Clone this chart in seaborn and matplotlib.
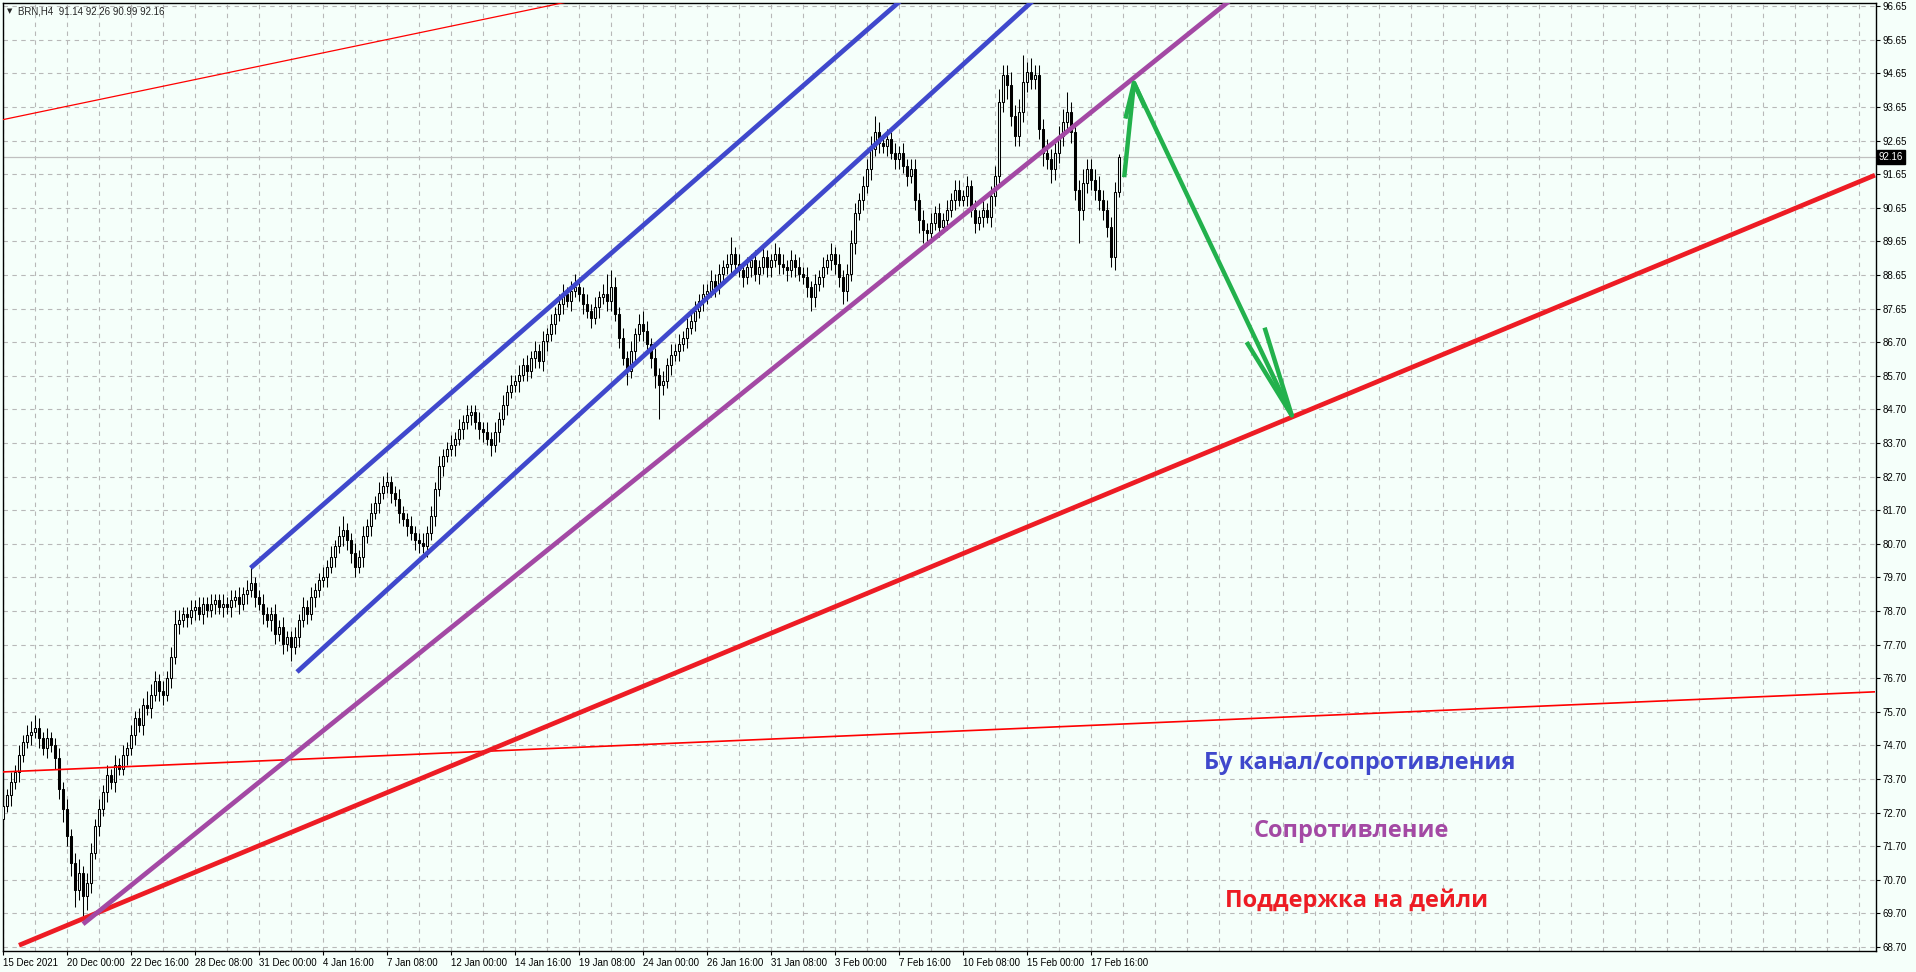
import numpy as np
import pandas as pd
import seaborn as sns
import matplotlib.pyplot as plt

# BRN H4 CANDLES, ONE ROW = 8 BARS
closes = [
    72.9, 73.2, 73.6, 73.9, 74.4, 74.8, 75.0, 75.1,
    75.2, 74.9, 74.6, 74.9, 74.7, 74.3, 73.4, 72.8,
    72.0, 71.2, 70.4, 70.9, 70.2, 70.6, 71.5, 72.3,
    72.8, 73.3, 73.8, 73.6, 74.1, 74.0, 74.4, 74.6,
    75.0, 75.5, 75.3, 75.9, 75.8, 76.2, 76.6, 76.3,
    76.2, 76.7, 77.3, 78.3, 78.4, 78.6, 78.5, 78.7,
    78.8, 78.6, 78.9, 78.7, 78.9, 79.0, 78.8, 78.9,
    78.8, 79.0, 79.1, 78.9, 79.2, 79.3, 79.5, 79.1,
    78.9, 78.6, 78.4, 78.6, 78.0, 78.2, 77.7, 77.9,
    77.6, 77.9, 78.4, 78.8, 78.6, 79.1, 79.3, 79.6,
    79.7, 80.0, 80.3, 80.6, 80.9, 81.1, 80.8, 80.4,
    80.0, 80.3, 80.9, 81.2, 81.6, 81.9, 82.2, 82.4,
    82.5, 82.2, 82.0, 81.6, 81.4, 81.2, 81.0, 80.8,
    80.7, 80.6, 81.0, 81.5, 82.3, 83.0, 83.3, 83.5,
    83.6, 83.8, 84.1, 84.3, 84.5, 84.6, 84.3, 84.1,
    84.0, 83.8, 83.6, 84.0, 84.4, 84.8, 85.2, 85.4,
    85.5, 85.7, 86.0, 85.8, 86.2, 86.4, 86.1, 86.7,
    86.9, 87.2, 87.5, 87.8, 88.1, 87.9, 88.2, 88.3,
    88.1, 87.8, 87.6, 87.4, 87.7, 88.0, 88.1, 87.9,
    88.3, 87.5, 86.8, 86.2, 85.8, 86.4, 86.9, 87.2,
    87.0, 86.6, 86.2, 85.7, 85.4, 85.5, 86.0, 86.3,
    86.4, 86.6, 86.8, 87.1, 87.3, 87.6, 87.9, 88.1,
    88.2, 88.5, 88.3, 88.7, 88.9, 89.0, 89.3, 89.0,
    88.8, 88.6, 88.9, 89.1, 88.7, 88.9, 89.2, 88.9,
    89.1, 89.3, 89.0, 88.9, 88.8, 89.1, 88.9, 88.7,
    88.6, 88.3, 88.0, 88.4, 88.6, 88.9, 89.1, 89.3,
    89.0, 88.6, 88.2, 88.7, 89.6, 90.5, 90.9, 91.3,
    91.8, 92.4, 92.9, 92.6, 92.5, 92.7, 92.3, 92.1,
    92.3, 91.9, 91.6, 91.8, 90.9, 90.3, 90.0, 89.9,
    90.2, 90.5, 90.1, 90.3, 90.6, 90.9, 91.2, 90.9,
    91.0, 91.3, 90.6, 90.2, 90.4, 90.6, 90.4, 91.0,
    91.6, 93.8, 94.6, 94.3, 93.4, 92.8, 93.5, 94.4,
    94.7, 94.5, 94.6, 93.0, 92.3, 92.1, 91.8, 92.3,
    92.8, 93.2, 93.5, 92.9, 91.2, 90.6, 91.4, 91.8,
    91.5, 91.2, 90.9, 90.6, 90.1, 89.2, 91.14, 92.16,
]
first_open = 72.5

wick_up = [
    0.3, 0.2, 0.3, 0.2, 0.3, 0.2, 0.3, 0.3,
    0.4, 0.3, 0.2, 0.3, 0.2, 0.2, 0.3, 0.2,
    0.3, 0.2, 0.3, 0.4, 0.2, 0.3, 0.3, 0.2,
    0.3, 0.2, 0.3, 0.2, 0.3, 0.2, 0.3, 0.2,
    0.3, 0.2, 0.3, 0.2, 0.4, 0.3, 0.3, 0.2,
    0.3, 0.2, 0.3, 0.4, 0.3, 0.2, 0.2, 0.3,
    0.2, 0.3, 0.2, 0.2, 0.3, 0.2, 0.2, 0.3,
    0.2, 0.3, 0.2, 0.3, 0.2, 0.3, 0.5, 0.2,
    0.2, 0.3, 0.2, 0.2, 0.3, 0.2, 0.3, 0.2,
    0.2, 0.3, 0.2, 0.3, 0.2, 0.3, 0.2, 0.2,
    0.3, 0.2, 0.3, 0.2, 0.3, 0.4, 0.2, 0.2,
    0.3, 0.2, 0.3, 0.2, 0.3, 0.2, 0.3, 0.3,
    0.3, 0.2, 0.2, 0.3, 0.2, 0.2, 0.3, 0.2,
    0.2, 0.3, 0.2, 0.3, 0.2, 0.3, 0.2, 0.2,
    0.3, 0.2, 0.3, 0.2, 0.3, 0.2, 0.2, 0.3,
    0.2, 0.3, 0.2, 0.3, 0.2, 0.3, 0.2, 0.3,
    0.2, 0.3, 0.2, 0.3, 0.2, 0.3, 0.2, 0.3,
    0.2, 0.3, 0.2, 0.3, 0.3, 0.2, 0.3, 0.4,
    0.3, 0.2, 0.3, 0.2, 0.3, 0.2, 0.3, 0.6,
    0.5, 0.3, 0.2, 0.3, 0.2, 0.3, 0.2, 0.3,
    0.4, 0.3, 0.2, 0.3, 0.2, 0.3, 0.2, 0.3,
    0.2, 0.3, 0.2, 0.3, 0.2, 0.3, 0.2, 0.3,
    0.2, 0.3, 0.2, 0.3, 0.2, 0.3, 0.5, 0.2,
    0.3, 0.2, 0.3, 0.2, 0.3, 0.2, 0.3, 0.2,
    0.2, 0.3, 0.2, 0.3, 0.2, 0.3, 0.2, 0.3,
    0.2, 0.3, 0.2, 0.3, 0.2, 0.3, 0.2, 0.3,
    0.2, 0.3, 0.2, 0.3, 0.4, 0.3, 0.2, 0.3,
    0.3, 0.4, 0.5, 0.3, 0.2, 0.3, 0.2, 0.3,
    0.2, 0.3, 0.2, 0.3, 0.3, 0.2, 0.3, 0.2,
    0.3, 0.2, 0.3, 0.2, 0.3, 0.2, 0.3, 0.3,
    0.2, 0.3, 0.2, 0.3, 0.2, 0.3, 0.2, 0.3,
    0.3, 0.4, 0.3, 0.3, 0.4, 0.3, 0.4, 0.8,
    0.3, 0.4, 0.3, 0.3, 0.3, 0.4, 0.3, 0.3,
    0.3, 0.4, 0.6, 0.3, 0.3, 0.3, 0.4, 0.3,
    0.3, 0.3, 0.4, 0.3, 0.3, 0.3, 0.3, 0.1,
]
wick_dn = [
    0.3, 0.2, 0.3, 0.2, 0.3, 0.2, 0.2, 0.3,
    0.2, 0.3, 0.2, 0.3, 0.2, 0.3, 0.3, 0.4,
    0.3, 0.4, 0.5, 0.3, 0.6, 0.4, 0.3, 0.2,
    0.3, 0.2, 0.3, 0.2, 0.3, 0.2, 0.2, 0.3,
    0.2, 0.3, 0.2, 0.3, 0.2, 0.3, 0.2, 0.3,
    0.3, 0.2, 0.3, 0.2, 0.3, 0.2, 0.3, 0.2,
    0.3, 0.2, 0.3, 0.2, 0.2, 0.3, 0.2, 0.3,
    0.2, 0.3, 0.2, 0.3, 0.2, 0.3, 0.2, 0.3,
    0.2, 0.3, 0.2, 0.3, 0.3, 0.2, 0.3, 0.2,
    0.4, 0.2, 0.3, 0.2, 0.3, 0.2, 0.3, 0.2,
    0.2, 0.3, 0.2, 0.3, 0.2, 0.3, 0.3, 0.3,
    0.3, 0.2, 0.3, 0.2, 0.3, 0.2, 0.3, 0.2,
    0.2, 0.3, 0.2, 0.3, 0.2, 0.3, 0.2, 0.3,
    0.3, 0.2, 0.3, 0.2, 0.3, 0.2, 0.3, 0.2,
    0.2, 0.3, 0.2, 0.3, 0.2, 0.3, 0.2, 0.3,
    0.3, 0.2, 0.3, 0.2, 0.3, 0.2, 0.3, 0.2,
    0.2, 0.3, 0.2, 0.3, 0.2, 0.3, 0.2, 0.3,
    0.3, 0.2, 0.3, 0.2, 0.3, 0.2, 0.3, 0.2,
    0.2, 0.3, 0.2, 0.3, 0.2, 0.3, 0.2, 0.3,
    0.3, 0.2, 0.3, 0.2, 0.4, 0.2, 0.3, 0.2,
    0.3, 0.2, 0.3, 0.4, 1.0, 0.3, 0.2, 0.3,
    0.2, 0.3, 0.2, 0.3, 0.2, 0.3, 0.2, 0.3,
    0.3, 0.2, 0.3, 0.2, 0.3, 0.2, 0.3, 0.2,
    0.2, 0.3, 0.2, 0.3, 0.2, 0.3, 0.2, 0.3,
    0.3, 0.2, 0.3, 0.2, 0.3, 0.2, 0.3, 0.2,
    0.2, 0.3, 0.4, 0.3, 0.2, 0.3, 0.2, 0.3,
    0.3, 0.3, 0.4, 0.3, 0.2, 0.3, 0.2, 0.3,
    0.2, 0.3, 0.2, 0.3, 0.2, 0.3, 0.2, 0.3,
    0.3, 0.2, 0.3, 0.2, 0.3, 0.4, 0.4, 0.3,
    0.3, 0.2, 0.3, 0.2, 0.3, 0.2, 0.3, 0.2,
    0.2, 0.3, 0.2, 0.3, 0.2, 0.3, 0.2, 0.3,
    0.3, 0.2, 0.3, 0.4, 0.3, 0.3, 0.3, 0.3,
    0.3, 0.3, 0.3, 0.3, 0.4, 0.3, 0.4, 0.3,
    0.3, 0.3, 0.3, 0.3, 0.3, 1.0, 0.3, 0.3,
    0.3, 0.3, 0.3, 0.3, 0.3, 0.3, 0.4, 0.15,
]

# AXIS LABELS
date_labels = ['15 Dec 2021', '20 Dec 00:00', '22 Dec 16:00', '28 Dec 08:00', '31 Dec 00:00',
               '4 Jan 16:00', '7 Jan 08:00', '12 Jan 00:00', '14 Jan 16:00', '19 Jan 08:00',
               '24 Jan 00:00', '26 Jan 16:00', '31 Jan 08:00', '3 Feb 00:00', '7 Feb 16:00',
               '10 Feb 08:00', '15 Feb 00:00', '17 Feb 16:00']
price_labels = ['68.70', '69.70', '70.70', '71.70', '72.70', '73.70', '74.70', '75.70', '76.70',
                '77.70', '78.70', '79.70', '80.70', '81.70', '82.70', '83.70', '84.70', '85.70',
                '86.70', '87.65', '88.65', '89.65', '90.65', '91.65', '92.65', '93.65', '94.65',
                '95.65', '96.65']
last_price = 92.16

# DRAWN LINES (BAR INDEX, PRICE)
thin_red_top_x, thin_red_top_y = [0, 240], [93.28, 99.23]
thin_red_low_x, thin_red_low_y = [0, 468], [73.90, 76.28]
support_x, support_y = [4, 468], [68.75, 91.63]
resist_x, resist_y = [20, 320], [69.38, 98.09]
chan_up_x, chan_up_y = [61.9, 250], [79.96, 99.47]
chan_lo_x, chan_lo_y = [73.5, 270], [76.87, 98.17]
arrow_x = [280.3, 282.75, 322.2]
arrow_y = [91.57, 94.37, 84.49]
head_top_x, head_top_y = [280.6, 282.75, 285.5], [93.31, 94.37, 93.64]
head_bot_x, head_bot_y = [315.4, 322.2, 310.9], [87.10, 84.49, 86.67]

BG = '#F5FFFA'
W, H = 1916, 972

sns.set_theme(style='ticks')
plt.rcParams['font.family'] = ['Liberation Sans', 'DejaVu Sans']

df = pd.DataFrame({'close': closes, 'up': wick_up, 'dn': wick_dn})
df['open'] = df['close'].shift(1).fillna(first_open)
df['high'] = df[['open', 'close']].max(axis=1) + df['up']
df['low'] = df[['open', 'close']].min(axis=1) - df['dn']
df['bar'] = np.arange(len(df))

fig = plt.figure(figsize=(W / 100, H / 100), dpi=100, facecolor=BG)
ax = fig.add_axes([3 / W, 21 / H, 1873 / W, 948 / H], facecolor=BG)

# CANDLES
ax.vlines(df['bar'], df['low'], df['high'], color='black', lw=0.75, zorder=3)
bull = df['close'] >= df['open']
body = (df['close'] - df['open']).abs().clip(lower=0.03)
bottom = df[['open', 'close']].min(axis=1)
ax.bar(df['bar'][bull], body[bull], bottom=bottom[bull], width=0.55,
       color=BG, edgecolor='black', lw=0.75, zorder=4)
ax.bar(df['bar'][~bull], body[~bull], bottom=bottom[~bull], width=0.55,
       color='black', edgecolor='black', lw=0.75, zorder=4)

# CURRENT PRICE LINE
ax.axhline(last_price, color='#C0C0C0', lw=0.9, zorder=1)

# TRENDLINES
def tline(xs, ys, color, lw):
    sns.lineplot(x=xs, y=ys, color=color, lw=lw, ax=ax, estimator=None,
                 sort=False, zorder=5, solid_capstyle='butt')

tline(thin_red_top_x, thin_red_top_y, '#FF0000', 0.9)
tline(thin_red_low_x, thin_red_low_y, '#FF0000', 1.2)
tline(support_x, support_y, '#ED1C24', 3.4)
tline(resist_x, resist_y, '#A349A4', 3.4)
tline(chan_up_x, chan_up_y, '#3F48CC', 3.4)
tline(chan_lo_x, chan_lo_y, '#3F48CC', 3.4)
tline(arrow_x, arrow_y, '#22B14C', 3.2)
tline(head_top_x, head_top_y, '#22B14C', 3.2)
tline(head_bot_x, head_bot_y, '#22B14C', 3.2)

# AXES
ax.set_xlim(0, 468.25)
ax.set_ylim(68.58, 96.745)
ytick_pos = np.linspace(68.70, 96.65, len(price_labels))
ax.set_yticks(ytick_pos)
ax.set_yticklabels(price_labels)
ax.yaxis.tick_right()
ax.set_xticks(np.arange(len(date_labels)) * 16)
ax.set_xticklabels(date_labels, ha='left')
ax.set_xticks(np.arange(0, 469, 8), minor=True)
ax.tick_params(axis='both', labelsize=7, colors='black', length=3, width=0.8, pad=2)
ax.tick_params(axis='x', which='minor', length=0)
ax.grid(which='both', axis='x', color='#B8B8B8', lw=0.8, ls=(0, (4, 4)))
ax.grid(which='major', axis='y', color='#B8B8B8', lw=0.8, ls=(0, (4, 4)))
ax.set_axisbelow(True)
for s in ax.spines.values():
    s.set_color('black')
    s.set_linewidth(1.0)

# LABEL BOX FOR LAST PRICE
ax.text(1.0015, last_price, f'{last_price:.2f}', transform=ax.get_yaxis_transform(),
        ha='left', va='center', color='white', fontsize=7,
        bbox=dict(boxstyle='square,pad=0.2', fc='black', ec='black'), zorder=10)

# HEADER
fig.text(7 / W, 1 - 11 / H, '\u25BC', fontsize=5, family='DejaVu Sans', va='center', ha='left')
fig.text(18 / W, 1 - 11 / H, 'BRN,H4  91.14 92.26 90.99 92.16', fontsize=7, va='center', ha='left')

# ANNOTATIONS
tfont = ['Open Sans', 'DejaVu Sans']
fig.text(1360 / W, 1 - 763 / H, 'Бу канал/сопротивления', color='#3F48CC', fontsize=17,
         fontweight='bold', family=tfont, ha='center', va='center')
fig.text(1351 / W, 1 - 831 / H, 'Сопротивление', color='#A349A4', fontsize=17,
         fontweight='bold', family=tfont, ha='center', va='center')
fig.text(1357 / W, 1 - 901 / H, 'Поддержка на дейли', color='#ED1C24', fontsize=17,
         fontweight='bold', family=tfont, ha='center', va='center')

fig.savefig('out.png', dpi=100, facecolor=BG)
